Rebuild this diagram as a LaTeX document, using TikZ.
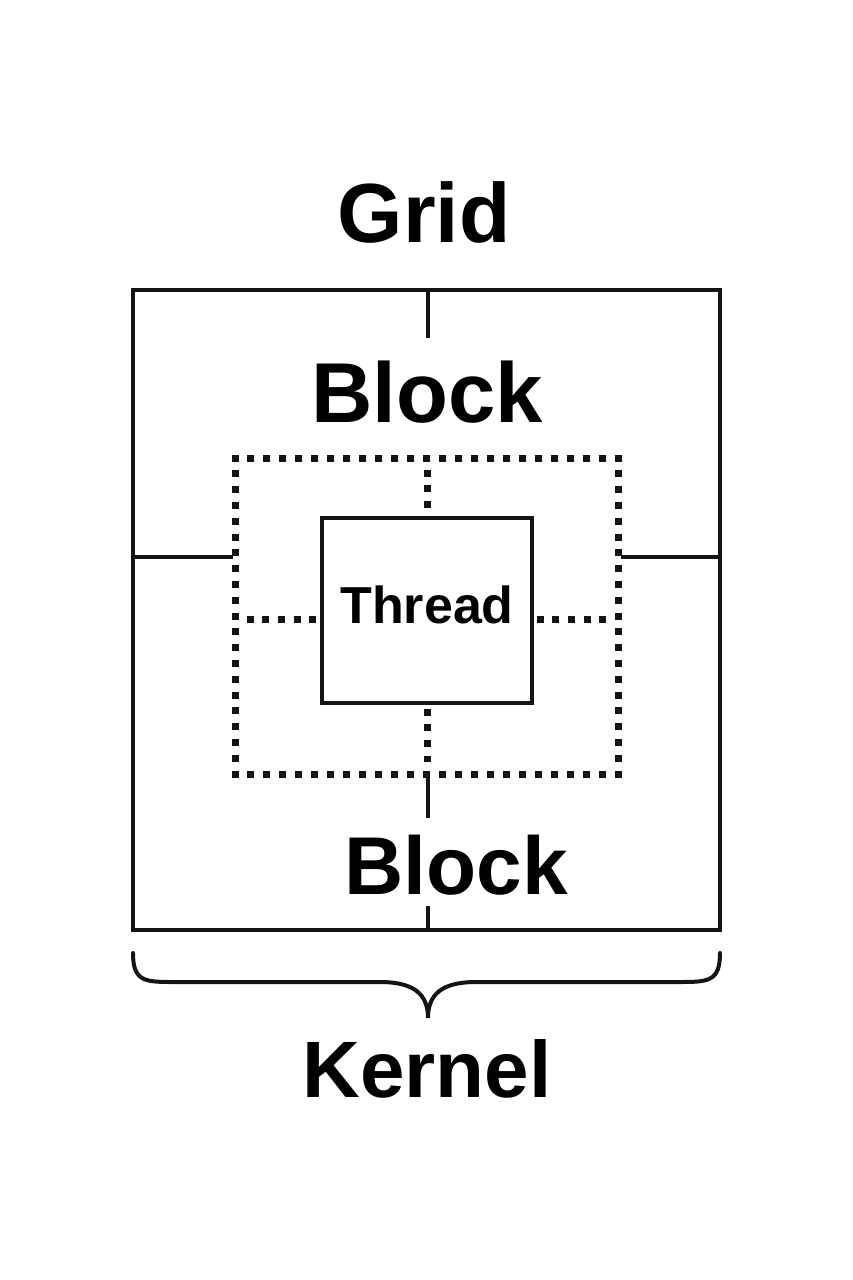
\documentclass[tikz,border=0pt]{standalone}
\usepackage{fontspec}
\setmainfont{Liberation Sans}
\begin{document}
\begin{tikzpicture}[x=1pt,y=-1pt,
  lbl/.style={anchor=base, inner sep=0pt, text=black},
  solidline/.style={draw=black!92, line width=4.5pt},
  tickline/.style={draw=black!92, line width=3.5pt},
  dotline/.style={draw=black!92, line width=7pt, dash pattern=on 7pt off #1},
  dotline/.default=8.7pt,
  bracestyle/.style={draw=black!92, line width=4pt, line cap=round}]
\useasboundingbox (0,0) rectangle (853,1280);
\fill[white] (0,0) rectangle (853,1280);
% outer grid box
\coordinate (gNW) at (133,290);
\coordinate (gSE) at (720,930);
\draw[solidline] (gNW) rectangle (gSE);
% dotted block box
\coordinate (bNW) at (235,458);
\coordinate (bNE) at (618,458);
\coordinate (bSW) at (235,774);
\coordinate (bSE) at (618,774);
\draw[dotline=8.96pt, shorten <=-3.5pt, shorten >=-3.5pt] (bNW) -- (bNE);
\draw[dotline=8.96pt, shorten <=-3.5pt, shorten >=-3.5pt] (bSW) -- (bSE);
\draw[dotline=8.8pt, shorten <=-3.5pt, shorten >=-3.5pt] (bNW) -- (bSW);
\draw[dotline=8.8pt, shorten <=-3.5pt, shorten >=-3.5pt] (bNE) -- (bSE);
% thread box
\coordinate (tNW) at (322,518);
\coordinate (tSE) at (532,703);
\draw[solidline] (tNW) rectangle (tSE);
\node[lbl, font=\fontsize{52}{60}\selectfont\bfseries] (thread) at (427,623) {Thread};
% solid ticks
\coordinate (t1a) at (428,290); \coordinate (t1b) at (428,338);
\coordinate (t2a) at (428,776); \coordinate (t2b) at (428,818);
\coordinate (t3a) at (428,906); \coordinate (t3b) at (428,930);
\draw[tickline] (t1a) -- (t1b);
\draw[tickline] (t2a) -- (t2b);
\draw[tickline] (t3a) -- (t3b);
\coordinate (hL1) at (133,557); \coordinate (hL2) at (233,557);
\coordinate (hR1) at (621,557); \coordinate (hR2) at (720,557);
\draw[tickline] (hL1) -- (hL2);
\draw[tickline] (hR1) -- (hR2);
% dotted inner lines
\coordinate (dT1) at (427,469.5); \coordinate (dT2) at (427,514);
\coordinate (dB1) at (427,708.5); \coordinate (dB2) at (427,762);
\coordinate (dL1) at (246.5,619); \coordinate (dL2) at (318,619);
\coordinate (dR1) at (536.5,619); \coordinate (dR2) at (608,619);
\draw[dotline] (dT1) -- (dT2);
\draw[dotline] (dB1) -- (dB2);
\draw[dotline] (dL1) -- (dL2);
\draw[dotline] (dR1) -- (dR2);
% labels
\node[lbl, font=\fontsize{84}{90}\selectfont\bfseries] (grid) at (424,242) {Grid};
\node[lbl, font=\fontsize{85}{90}\selectfont\bfseries] (block1) at (427,422) {Block};
\node[lbl, font=\fontsize{82}{90}\selectfont\bfseries] (block2) at (456,894) {Block};
\node[lbl, font=\fontsize{80}{90}\selectfont\bfseries] (kernel) at (427,1097) {Kernel};
% brace
\coordinate (brL) at (133,953);
\coordinate (brR) at (720,953);
\coordinate (brT) at (428,1018);
\draw[bracestyle] (brL) .. controls (133,982) and (145,982) .. (175,982)
  -- (380,982) .. controls (415,982) and (428,995) .. (brT)
  .. controls (428,995) and (441,982) .. (476,982)
  -- (678,982) .. controls (708,982) and (720,982) .. (brR);
\end{tikzpicture}
\end{document}
